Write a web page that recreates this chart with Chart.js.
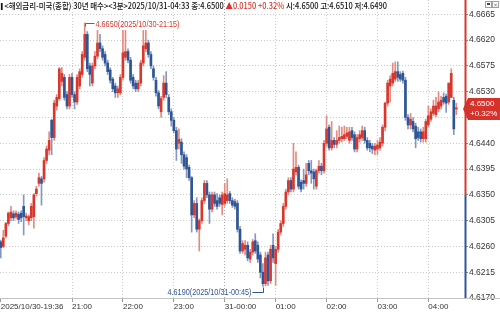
<!DOCTYPE html>
<html>
<head>
<meta charset="utf-8">
<script src="https://cdn.jsdelivr.net/npm/chart.js@4"></script>
<style>
  html, body { margin: 0; padding: 0; background: #fff; }
  #wrap { position: relative; width: 500px; height: 314px; overflow: hidden; }
  #grafico { position: absolute; left: 0; top: 0; }
  #cabecera {
    position: absolute; left: 0; top: 0; white-space: nowrap;
    font-family: 'Noto Sans CJK KR', sans-serif; font-size: 8.5px; line-height: 10px;
    color: #111; transform-origin: 0 0; font-weight: 500;
  }
  #cabecera .barra { display: inline-block; width: 2px; height: 7px; background: #111; margin: 0 2px 0 1px; vertical-align: -1px; }
  #cabecera .rojo { color: #d8322b; }
  #iconos { position: absolute; left: 485px; top: 1px; width: 14px; height: 7px; }
  #iconos div { position: absolute; top: 0; width: 5px; height: 5px; border: 1px solid #a0a0a0; background: #fff; }
  #iconos .i1 { left: 0; }
  #iconos .i1::after { content: ''; position: absolute; left: 1px; top: 1px; width: 3px; height: 2px; background: #444; }
  #iconos .i2 { left: 7px; font: 6px/5px 'DejaVu Sans', sans-serif; color: #777; text-align: center; }
</style>
</head>
<body>
<div id="wrap">
  <canvas id="grafico" width="500" height="314"></canvas>
  <div id="cabecera"><span class="barra"></span>&lt;해외금리-미국(종합) 30년 매수&gt;&lt;3분&gt;2025/10/31-04:33 종:4.6500 <span class="rojo">▲0.0150 +0.32%</span> 시:4.6500 고:4.6510 저:4.6490</div>
  <div id="iconos"><div class="i1"></div><div class="i2">×</div></div>
</div>
<script>
// Datos de velas de 3 minutos (apertura, máximo, mínimo, cierre)
const aperturas = [
  4.6268,4.6260,4.6278,4.6300,4.6310,4.6317,4.6312,4.6316,4.6318,4.6330,
  4.6310,4.6305,4.6310,4.6312,4.6352,4.6370,4.6378,4.6378,4.6410,4.6428,
  4.6480,4.6450,4.6505,4.6518,4.6548,4.6555,4.6525,4.6505,4.6555,4.6525,
  4.6512,4.6540,4.6560,4.6590,4.6630,4.6575,4.6545,4.6575,4.6592,4.6615,
  4.6605,4.6595,4.6580,4.6568,4.6552,4.6540,4.6528,4.6528,4.6555,4.6590,
  4.6600,4.6585,4.6555,4.6545,4.6535,4.6545,4.6580,4.6605,4.6615,4.6595,
  4.6570,4.6550,4.6528,4.6495,4.6520,4.6545,4.6520,4.6495,4.6480,4.6462,
  4.6440,4.6442,4.6420,4.6415,4.6398,4.6380,4.6315,4.6335,4.6290,4.6305,
  4.6340,4.6370,4.6350,4.6325,4.6350,4.6340,4.6345,4.6333,4.6335,4.6340,
  4.6352,4.6340,4.6338,4.6335,4.6290,4.6252,4.6255,4.6262,4.6238,4.6250,
  4.6270,4.6262,4.6245,4.6215,4.6195,4.6245,4.6200,4.6262,4.6230,4.6255,
  4.6285,4.6300,4.6330,4.6355,4.6375,4.6360,4.6390,4.6398,4.6372,4.6375,
  4.6370,4.6405,4.6392,4.6390,4.6365,4.6392,4.6400,4.6392,4.6440,4.6468,
  4.6432,4.6445,4.6438,4.6445,4.6448,4.6448,4.6452,4.6445,4.6462,4.6455,
  4.6430,4.6448,4.6450,4.6462,4.6445,4.6440,4.6435,4.6428,4.6430,4.6432,
  4.6440,4.6468,4.6510,4.6540,4.6545,4.6552,4.6565,4.6560,4.6562,4.6550,
  4.6485,4.6472,4.6478,4.6470,4.6460,4.6460,4.6448,4.6448,4.6472,4.6482,
  4.6492,4.6490,4.6500,4.6505,4.6520,4.6522,4.6512,4.6520,4.6515,4.6500
];
const maximos = [
  4.6271,4.6288,4.6302,4.6320,4.6330,4.6322,4.6322,4.6320,4.6322,4.6350,
  4.6318,4.6315,4.6335,4.6352,4.6365,4.6388,4.6382,4.6415,4.6435,4.6460,
  4.6482,4.6515,4.6525,4.6572,4.6572,4.6560,4.6530,4.6560,4.6562,4.6530,
  4.6560,4.6570,4.6600,4.6650,4.6635,4.6580,4.6580,4.6600,4.6637,4.6630,
  4.6610,4.6600,4.6585,4.6572,4.6555,4.6545,4.6540,4.6560,4.6637,4.6637,
  4.6605,4.6590,4.6560,4.6550,4.6550,4.6585,4.6637,4.6637,4.6620,4.6600,
  4.6575,4.6555,4.6532,4.6522,4.6558,4.6565,4.6525,4.6500,4.6485,4.6468,
  4.6465,4.6448,4.6425,4.6420,4.6402,4.6382,4.6340,4.6345,4.6308,4.6345,
  4.6375,4.6375,4.6355,4.6355,4.6355,4.6352,4.6350,4.6355,4.6370,4.6378,
  4.6356,4.6345,4.6342,4.6340,4.6295,4.6270,4.6270,4.6268,4.6255,4.6272,
  4.6282,4.6268,4.6250,4.6230,4.6250,4.6250,4.6262,4.6282,4.6260,4.6290,
  4.6305,4.6335,4.6360,4.6380,4.6380,4.6440,4.6425,4.6402,4.6376,4.6395,
  4.6405,4.6410,4.6410,4.6395,4.6395,4.6410,4.6405,4.6445,4.6488,4.6472,
  4.6478,4.6450,4.6462,4.6470,4.6468,4.6470,4.6468,4.6468,4.6468,4.6460,
  4.6455,4.6462,4.6470,4.6468,4.6450,4.6445,4.6440,4.6440,4.6445,4.6450,
  4.6472,4.6512,4.6550,4.6558,4.6580,4.6582,4.6582,4.6565,4.6566,4.6555,
  4.6490,4.6492,4.6485,4.6475,4.6468,4.6465,4.6468,4.6482,4.6505,4.6500,
  4.6515,4.6520,4.6530,4.6522,4.6528,4.6526,4.6545,4.6570,4.6520,4.6510
];
const minimos = [
  4.6240,4.6258,4.6275,4.6296,4.6305,4.6305,4.6308,4.6300,4.6303,4.6280,
  4.6305,4.6298,4.6305,4.6292,4.6348,4.6365,4.6332,4.6372,4.6405,4.6420,
  4.6420,4.6445,4.6498,4.6515,4.6540,4.6515,4.6500,4.6500,4.6520,4.6500,
  4.6508,4.6535,4.6555,4.6585,4.6565,4.6540,4.6540,4.6570,4.6588,4.6600,
  4.6585,4.6575,4.6560,4.6545,4.6530,4.6520,4.6520,4.6525,4.6550,4.6585,
  4.6580,4.6545,4.6535,4.6530,4.6530,4.6540,4.6575,4.6600,4.6590,4.6570,
  4.6550,4.6522,4.6500,4.6485,4.6515,4.6520,4.6490,4.6470,4.6458,4.6410,
  4.6430,4.6405,4.6395,4.6380,4.6375,4.6285,4.6310,4.6285,4.6252,4.6300,
  4.6335,4.6345,4.6300,4.6320,4.6330,4.6325,4.6330,4.6315,4.6330,4.6335,
  4.6335,4.6328,4.6325,4.6285,4.6248,4.6248,4.6245,4.6235,4.6232,4.6245,
  4.6248,4.6232,4.6205,4.6190,4.6191,4.6192,4.6195,4.6232,4.6192,4.6250,
  4.6280,4.6295,4.6325,4.6350,4.6355,4.6355,4.6385,4.6360,4.6355,4.6360,
  4.6365,4.6385,4.6370,4.6360,4.6360,4.6388,4.6385,4.6388,4.6435,4.6428,
  4.6428,4.6432,4.6432,4.6440,4.6442,4.6445,4.6448,4.6440,4.6445,4.6425,
  4.6425,4.6442,4.6445,4.6440,4.6428,4.6425,4.6422,4.6420,4.6420,4.6428,
  4.6435,4.6462,4.6505,4.6512,4.6540,4.6548,4.6548,4.6548,4.6545,4.6480,
  4.6465,4.6465,4.6460,4.6432,4.6445,4.6442,4.6442,4.6442,4.6468,4.6478,
  4.6488,4.6486,4.6495,4.6500,4.6508,4.6494,4.6508,4.6520,4.6455,4.6490
];
const cierres = [
  4.6258,4.6275,4.6300,4.6318,4.6320,4.6310,4.6318,4.6307,4.6310,4.6312,
  4.6313,4.6312,4.6330,4.6350,4.6360,4.6380,4.6370,4.6410,4.6430,4.6445,
  4.6450,4.6510,4.6520,4.6570,4.6562,4.6520,4.6505,4.6555,4.6525,4.6512,
  4.6555,4.6565,4.6595,4.6630,4.6570,4.6560,4.6575,4.6592,4.6615,4.6605,
  4.6590,4.6580,4.6565,4.6550,4.6535,4.6528,4.6535,4.6555,4.6598,4.6600,
  4.6585,4.6550,4.6540,4.6535,4.6545,4.6580,4.6610,4.6615,4.6595,4.6575,
  4.6555,4.6528,4.6505,4.6518,4.6545,4.6525,4.6495,4.6480,4.6462,4.6430,
  4.6447,4.6420,4.6400,4.6395,4.6380,4.6315,4.6335,4.6290,4.6305,4.6340,
  4.6370,4.6350,4.6325,4.6350,4.6335,4.6330,4.6335,4.6350,4.6352,4.6350,
  4.6340,4.6332,4.6330,4.6290,4.6252,4.6265,4.6262,4.6240,4.6250,4.6268,
  4.6252,4.6238,4.6215,4.6195,4.6240,4.6200,4.6255,4.6240,4.6255,4.6285,
  4.6300,4.6330,4.6355,4.6375,4.6360,4.6395,4.6398,4.6365,4.6360,4.6370,
  4.6385,4.6392,4.6388,4.6378,4.6392,4.6400,4.6392,4.6440,4.6465,4.6432,
  4.6445,4.6438,4.6445,4.6450,4.6452,4.6455,4.6458,4.6460,4.6450,4.6430,
  4.6450,4.6455,4.6462,4.6445,4.6432,4.6432,4.6430,4.6435,4.6437,4.6442,
  4.6468,4.6510,4.6545,4.6552,4.6562,4.6565,4.6555,4.6552,4.6550,4.6485,
  4.6472,4.6482,4.6465,4.6448,4.6450,4.6448,4.6460,4.6478,4.6488,4.6495,
  4.6505,4.6505,4.6512,4.6515,4.6512,4.6510,4.6545,4.6562,4.6465,4.6500
];

// Eje de tiempo: índice de vela y etiqueta
const posTiempo = [0, 28, 48, 68, 88, 108, 128, 148, 168];
const etiquetasTiempo = ['2025/10/30-19:36', '21:00', '22:00', '23:00', '31-00:00', '01:00', '02:00', '03:00', '04:00'];

// Eje de precios
const ticksPrecio = [4.6170, 4.6215, 4.6260, 4.6305, 4.6350, 4.6395, 4.6440, 4.6485, 4.6530, 4.6575, 4.6620, 4.6665];
const cierreAnterior = 4.6350;
const variacion = '+0.32%';

// Anotaciones de máximo y mínimo
const textoMaximo = '4.6650(2025/10/30-21:15)';
const textoMinimo = '4.6190(2025/10/31-00:45)';

const ROJO = '#d9372c';
const AZUL = '#2f5596';
const ROJO_MECHA = '#e58a80';
const AZUL_MECHA = '#8298c2';
const FUENTE = "'Liberation Sans Narrow', 'Liberation Sans', sans-serif";

const indices = cierres.map((c, i) => i);
const esAlza = i => cierres[i] >= aperturas[i];

const datosMecha = indices.map(i => ({ x: i, y: [minimos[i], maximos[i]] }));
const datosCuerpo = indices.map(i => ({ x: i, y: [aperturas[i], cierres[i]] }));

// Texto comprimido horizontalmente hasta un ancho dado
function textoAjustado(ctx, texto, x, y, ancho, alinear) {
  const w = ctx.measureText(texto).width;
  const s = Math.min(1, ancho / w);
  ctx.save();
  ctx.translate(alinear === 'right' ? x - w * s : x, y);
  ctx.scale(s, 1);
  ctx.textAlign = 'left';
  ctx.fillText(texto, 0, 0);
  ctx.restore();
}

// Plugin para eje derecho, anotaciones y etiqueta del último precio
const pluginExtras = {
  id: 'extras',
  afterDraw(chart) {
    const { ctx, chartArea: ca, scales: { x, y } } = chart;
    ctx.save();

    // línea base del eje x
    ctx.strokeStyle = '#c4c4c4';
    ctx.lineWidth = 1;
    ctx.beginPath();
    ctx.moveTo(0, ca.bottom + 0.5);
    ctx.lineTo(500, ca.bottom + 0.5);
    ctx.stroke();

    // eje derecho: rojo arriba del cierre anterior, azul abajo
    const yPrev = y.getPixelForValue(cierreAnterior);
    ctx.lineWidth = 2;
    ctx.strokeStyle = ROJO;
    ctx.beginPath();
    ctx.moveTo(ca.right + 0.5, ca.top);
    ctx.lineTo(ca.right + 0.5, yPrev);
    ctx.stroke();
    ctx.strokeStyle = AZUL;
    ctx.beginPath();
    ctx.moveTo(ca.right + 0.5, yPrev);
    ctx.lineTo(ca.right + 0.5, ca.bottom);
    ctx.stroke();

    ctx.font = '9px ' + FUENTE;
    ctx.lineWidth = 1;
    ctx.textBaseline = 'middle';

    // máximo
    let iMax = 0;
    maximos.forEach((v, i) => { if (v > maximos[iMax]) iMax = i; });
    const xm = Math.round(x.getPixelForValue(iMax)) + 0.5;
    const ym = Math.round(y.getPixelForValue(maximos[iMax])) + 0.5;
    ctx.strokeStyle = ROJO;
    ctx.fillStyle = ROJO;
    ctx.beginPath();
    ctx.moveTo(xm, ym + 3);
    ctx.lineTo(xm, ym);
    ctx.lineTo(xm + 9, ym);
    ctx.stroke();
    textoAjustado(ctx, textoMaximo, xm + 10, ym + 1, 84, 'left');

    // mínimo
    let iMin = 0;
    minimos.forEach((v, i) => { if (v < minimos[iMin]) iMin = i; });
    const xn = Math.round(x.getPixelForValue(iMin)) + 0.5;
    const yn = Math.round(y.getPixelForValue(minimos[iMin])) + 0.5;
    ctx.strokeStyle = AZUL;
    ctx.fillStyle = AZUL;
    ctx.beginPath();
    ctx.moveTo(xn, yn);
    ctx.lineTo(xn, yn + 5);
    ctx.lineTo(xn - 11, yn + 5);
    ctx.stroke();
    textoAjustado(ctx, textoMinimo, xn - 12, yn + 5, 84, 'right');

    // etiqueta del último precio
    const ultimo = cierres[cierres.length - 1];
    const yu = y.getPixelForValue(ultimo);
    ctx.fillStyle = '#d4322a';
    ctx.beginPath();
    ctx.moveTo(ca.right - 2, yu);
    ctx.lineTo(ca.right + 3, yu - 11);
    ctx.lineTo(500, yu - 11);
    ctx.lineTo(500, yu + 11);
    ctx.lineTo(ca.right + 3, yu + 11);
    ctx.closePath();
    ctx.fill();
    ctx.fillStyle = '#fff';
    ctx.textAlign = 'left';
    ctx.font = '8px ' + FUENTE;
    ctx.fillText(ultimo.toFixed(4), ca.right + 5, yu - 5);
    ctx.fillText(variacion, ca.right + 5, yu + 5);

    ctx.restore();
  }
};

new Chart(document.getElementById('grafico').getContext('2d'), {
  type: 'bar',
  data: {
    datasets: [
      {
        data: datosMecha,
        barThickness: 1,
        grouped: false,
        order: 2,
        minBarLength: 1,
        backgroundColor: ctx => esAlza(ctx.dataIndex) ? ROJO_MECHA : AZUL_MECHA
      },
      {
        data: datosCuerpo,
        barThickness: 2,
        grouped: false,
        order: 1,
        minBarLength: 1,
        backgroundColor: ctx => esAlza(ctx.dataIndex) ? ROJO : AZUL
      }
    ]
  },
  options: {
    responsive: false,
    animation: false,
    devicePixelRatio: 1,
    layout: { padding: 0 },
    plugins: { legend: { display: false }, tooltip: { enabled: false } },
    scales: {
      x: {
        type: 'linear',
        offset: false,
        min: -0.3,
        max: 182.4,
        afterBuildTicks: s => { s.ticks = posTiempo.map(v => ({ value: v })); },
        afterFit: s => { s.height = 16; s.paddingLeft = 0; s.paddingRight = 0; },
        ticks: {
          autoSkip: false,
          maxRotation: 0,
          align: 'start',
          padding: 0,
          color: '#333',
          font: { family: FUENTE, size: 8 },
          callback: v => etiquetasTiempo[posTiempo.indexOf(v)]
        },
        grid: {
          offset: false,
          tickLength: 4,
          tickColor: '#9a9a9a',
          tickBorderDash: [],
          borderDash: [1, 2],
          color: ctx => {
            const v = ctx.tick ? ctx.tick.value : -1;
            if (v === 0) return 'rgba(0,0,0,0)';
            return v === 88 ? '#a8a8a8' : '#cfcfcf';
          }
        },
        border: { display: false, dash: [1, 2] }
      },
      y: {
        position: 'right',
        min: 4.6170,
        max: 4.6690,
        beginAtZero: false,
        afterBuildTicks: s => { s.ticks = ticksPrecio.map(v => ({ value: v })); },
        afterFit: s => { s.width = 35; s.paddingTop = 0; s.paddingBottom = 0; },
        ticks: {
          autoSkip: false,
          padding: 1,
          color: '#333',
          font: { family: FUENTE, size: 8.5 },
          callback: v => v.toFixed(4)
        },
        grid: {
          tickLength: 3,
          tickColor: '#8a8a8a',
          tickBorderDash: [],
          borderDash: [1, 2],
          color: '#c8c8c8'
        },
        border: { display: false, dash: [1, 2] }
      }
    }
  },
  plugins: [pluginExtras]
});

// Ajustar el ancho de la cabecera al de la imagen original
const cab = document.getElementById('cabecera');
const anchoCab = cab.getBoundingClientRect().width;
cab.style.transform = 'scaleX(' + (387 / anchoCab) + ')';
</script>
</body>
</html>
